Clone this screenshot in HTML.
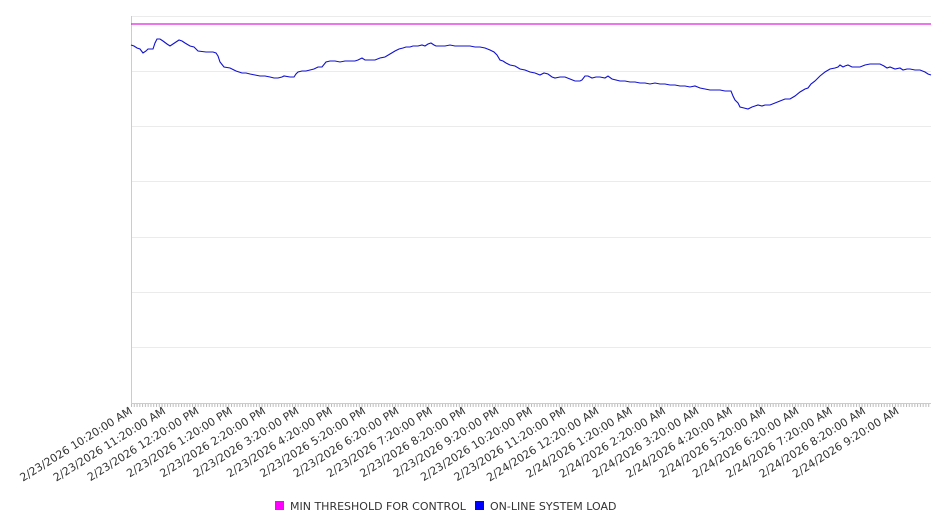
<!DOCTYPE html>
<html><head><meta charset="utf-8"><style>
body{margin:0;background:#fff;width:946px;height:526px;overflow:hidden;font-family:"DejaVu Sans","Liberation Sans",sans-serif}
</style></head><body>
<svg width="946" height="526" xmlns="http://www.w3.org/2000/svg" font-family="DejaVu Sans, Liberation Sans, sans-serif">
<defs><pattern id="tk" x="131" y="0" width="2.7778" height="10" patternUnits="userSpaceOnUse"><line x1="0.5" y1="0" x2="0.5" y2="10" stroke="#bbb" stroke-width="1"/></pattern></defs>
<g stroke="#ebebeb" stroke-width="1">
<line x1="131" y1="16.5" x2="931" y2="16.5"/>
<line x1="131" y1="71.5" x2="931" y2="71.5"/>
<line x1="131" y1="126.5" x2="931" y2="126.5"/>
<line x1="131" y1="181.5" x2="931" y2="181.5"/>
<line x1="131" y1="237.5" x2="931" y2="237.5"/>
<line x1="131" y1="292.5" x2="931" y2="292.5"/>
<line x1="131" y1="347.5" x2="931" y2="347.5"/>
</g>
<rect x="131" y="403" width="800" height="4" fill="url(#tk)"/>
<line x1="131.5" y1="16" x2="131.5" y2="404" stroke="#ccc"/>
<line x1="131" y1="403.5" x2="931" y2="403.5" stroke="#ccc"/>
<line x1="131" y1="24" x2="931" y2="24" stroke="#e020e0" stroke-width="1.2"/>
<polyline fill="none" stroke="#1010d0" stroke-width="1.1" points="131,45 134,46 137,48 140,49 143,53 146,51 148,49 153,49 155,43 157,39 160,39 163,41 167,44 170,46 173,44 176,42 179,40 182,41 185,43 190,46 194,47 198,51 206,52 210,52 213,52 216,53 218,56 220,62 224,67 230,68 234,70 236,71 239,72 242,73 246,73 250,74 255,75 260,76 265,76 270,77 274,78 278,78 282,77 284,76 290,77 294,77 296,74 298,72 302,71 306,71 310,70 314,69 318,67 322,67 326,62 330,61 335,61 340,62 345,61 350,61 355,61 358,60 362,58 365,60 368,60 372,60 375,60 380,58 385,57 390,54 395,51 399,49 403,48 406,47 410,47 413,46 418,46 422,45 425,46 428,44 431,43 434,45 436,46 440,46 445,46 450,45 455,46 460,46 465,46 470,46 475,47 480,47 485,48 490,50 494,52 497,55 500,60 503,61 506,63 510,65 515,66 520,69 525,70 530,72 535,73 540,75 544,73 548,74 552,77 555,78 560,77 565,77 570,79 575,81 580,81 582,80 585,76 588,76 592,78 596,77 600,77 605,78 608,76 612,79 616,80 620,81 625,81 630,82 635,82 640,83 645,83 650,84 655,83 660,84 665,84 670,85 675,85 680,86 685,86 690,87 695,86 700,88 705,89 710,90 715,90 720,90 725,91 731,91 733,96 735,100 738,103 740,107 744,108 748,109 752,107 755,106 758,105 762,106 765,105 770,105 775,103 780,101 785,99 790,99 795,96 800,92 805,89 808,88 811,84 815,81 820,76 825,72 830,69 835,68 838,67 840,65 843,67 845,66 848,65 852,67 855,67 860,67 865,65 870,64 875,64 880,64 884,66 887,68 890,67 895,69 900,68 903,70 907,69 910,69 915,70 920,70 925,72 928,74 931,75"/>
<g font-size="11" fill="#333" text-anchor="end">
<text transform="translate(133,413) rotate(-32)">2/23/2026 10:20:00 AM</text>
<text transform="translate(166.3,413) rotate(-32)">2/23/2026 11:20:00 AM</text>
<text transform="translate(199.7,413) rotate(-32)">2/23/2026 12:20:00 PM</text>
<text transform="translate(233,413) rotate(-32)">2/23/2026 1:20:00 PM</text>
<text transform="translate(266.3,413) rotate(-32)">2/23/2026 2:20:00 PM</text>
<text transform="translate(299.7,413) rotate(-32)">2/23/2026 3:20:00 PM</text>
<text transform="translate(333,413) rotate(-32)">2/23/2026 4:20:00 PM</text>
<text transform="translate(366.3,413) rotate(-32)">2/23/2026 5:20:00 PM</text>
<text transform="translate(399.7,413) rotate(-32)">2/23/2026 6:20:00 PM</text>
<text transform="translate(433,413) rotate(-32)">2/23/2026 7:20:00 PM</text>
<text transform="translate(466.3,413) rotate(-32)">2/23/2026 8:20:00 PM</text>
<text transform="translate(499.7,413) rotate(-32)">2/23/2026 9:20:00 PM</text>
<text transform="translate(533,413) rotate(-32)">2/23/2026 10:20:00 PM</text>
<text transform="translate(566.3,413) rotate(-32)">2/23/2026 11:20:00 PM</text>
<text transform="translate(599.7,413) rotate(-32)">2/24/2026 12:20:00 AM</text>
<text transform="translate(633,413) rotate(-32)">2/24/2026 1:20:00 AM</text>
<text transform="translate(666.3,413) rotate(-32)">2/24/2026 2:20:00 AM</text>
<text transform="translate(699.7,413) rotate(-32)">2/24/2026 3:20:00 AM</text>
<text transform="translate(733,413) rotate(-32)">2/24/2026 4:20:00 AM</text>
<text transform="translate(766.3,413) rotate(-32)">2/24/2026 5:20:00 AM</text>
<text transform="translate(799.7,413) rotate(-32)">2/24/2026 6:20:00 AM</text>
<text transform="translate(833,413) rotate(-32)">2/24/2026 7:20:00 AM</text>
<text transform="translate(866.3,413) rotate(-32)">2/24/2026 8:20:00 AM</text>
<text transform="translate(899.7,413) rotate(-32)">2/24/2026 9:20:00 AM</text>
</g>
<rect x="275" y="501" width="9" height="9" fill="#ff00ff"/>
<text x="290" y="510" font-size="11" fill="#333">MIN THRESHOLD FOR CONTROL</text>
<rect x="475" y="501" width="9" height="9" fill="#0000ff"/>
<text x="490" y="510" font-size="11" fill="#333">ON-LINE SYSTEM LOAD</text>
</svg>
</body></html>
